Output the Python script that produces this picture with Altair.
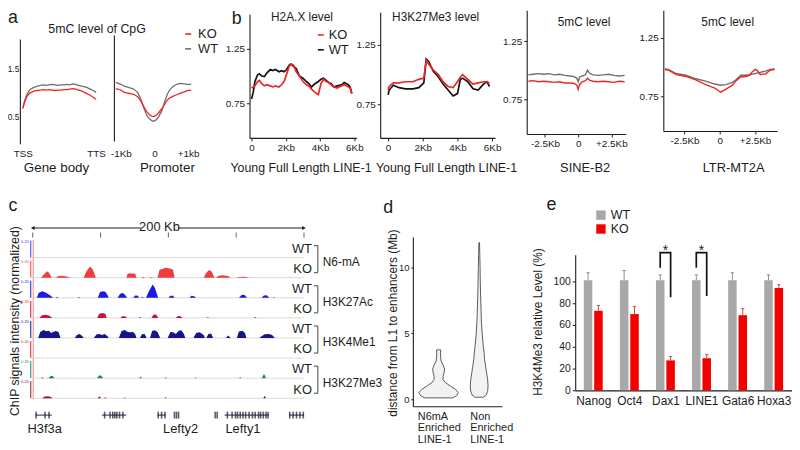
import altair as alt
import pandas as pd

# ================= data =================
# a: 5mC level of CpG
GB_X = [0, 2, 4, 6, 8, 10, 13, 16, 20, 24, 28, 32, 36, 40, 44, 48, 52, 56, 60, 64, 68, 72, 76, 80, 84, 88, 92, 96, 100]
GB_WT = [0.68, 0.80, 0.90, 0.97, 1.02, 1.06, 1.09, 1.11, 1.13, 1.15, 1.16, 1.15, 1.16, 1.17, 1.16, 1.15,
         1.16, 1.16, 1.17, 1.16, 1.18, 1.17, 1.15, 1.13, 1.12, 1.10, 1.07, 1.04, 1.00]
GB_KO = [0.66, 0.77, 0.86, 0.92, 0.96, 0.99, 1.01, 1.03, 1.04, 1.05, 1.06, 1.05, 1.06, 1.05, 1.04, 1.05,
         1.05, 1.06, 1.06, 1.07, 1.08, 1.07, 1.05, 1.03, 1.00, 0.97, 0.94, 0.90, 0.85]
PR_X = [-1.15, -1.0, -0.9, -0.75, -0.62, -0.5, -0.41, -0.32, -0.24, -0.16, -0.09, -0.03,
        0.03, 0.1, 0.21, 0.3, 0.38, 0.47, 0.56, 0.66, 0.76, 0.88, 1.0, 1.09]
PR_WT = [1.21, 1.17, 1.13, 1.10, 1.07, 1.00, 0.86, 0.68, 0.53, 0.45, 0.41, 0.39,
         0.41, 0.46, 0.60, 0.80, 0.96, 1.07, 1.13, 1.17, 1.19, 1.18, 1.17, 1.17]
PR_KO = [1.08, 1.05, 1.00, 0.98, 0.96, 0.91, 0.82, 0.70, 0.60, 0.54, 0.50, 0.49,
         0.51, 0.55, 0.65, 0.75, 0.84, 0.89, 0.92, 0.95, 0.98, 1.01, 1.04, 1.04]

# b: H2A.X / H3K27Me3 over young full-length LINE-1 (kb)
HX_X = [0.0, 0.1, 0.2, 0.35, 0.46, 0.6, 0.75, 0.9, 1.1, 1.25, 1.4, 1.6, 1.75, 1.9, 2.05, 2.2, 2.3, 2.45, 2.6, 2.8,
        3.0, 3.2, 3.35, 3.5, 3.7, 3.9, 4.05, 4.2, 4.35, 4.5, 4.65, 4.8, 5.0, 5.25, 5.4, 5.55, 5.65, 5.75, 5.85]
HX_WT = [0.79, 0.85, 0.95, 1.01, 1.02, 1.0, 0.995, 1.03, 1.06, 1.05, 1.06, 1.04, 1.05, 1.04, 1.06, 1.10, 1.11, 1.09, 1.07, 1.0,
         0.98, 0.95, 0.93, 0.90, 0.93, 0.95, 0.97, 0.98, 0.96, 0.94, 0.93, 0.90, 0.91, 0.92, 0.94, 0.93, 0.92, 0.90, 0.84]
HX_KO = [0.89, 0.90, 0.91, 0.95, 0.96, 0.93, 0.91, 0.92, 0.91, 0.90, 0.91, 0.90, 0.92, 0.95, 1.02, 1.09, 1.11, 1.10, 1.04, 1.0,
         0.95, 0.92, 0.91, 0.88, 0.85, 0.83, 0.93, 0.97, 0.95, 0.94, 0.92, 0.90, 0.89, 0.91, 0.92, 0.91, 0.90, 0.89, 0.84]
K27_X = [0.0, 0.06, 0.3, 0.63, 1.0, 1.43, 1.77, 2.06, 2.2, 2.34, 2.6, 2.9, 3.17, 3.46, 3.75, 4.0, 4.17, 4.3, 4.6, 4.9,
         5.2, 5.5, 5.7, 5.85]
K27_KO = [0.87, 0.90, 0.93, 0.93, 0.94, 0.94, 0.96, 0.97, 1.12, 1.09, 1.04, 1.0, 0.94, 0.90, 0.89, 0.94, 0.98, 1.0, 0.96, 0.92,
          0.93, 0.94, 0.94, 0.93]
K27_WT = [0.83, 0.87, 0.91, 0.89, 0.88, 0.88, 0.89, 0.93, 1.13, 1.11, 1.03, 0.98, 0.92, 0.87, 0.82, 0.84, 0.96, 0.97, 0.94, 0.88,
          0.87, 0.92, 0.94, 0.90]
# b: 5mC level over SINE-B2 / LTR-MT2A (kb from centre)
SB_X = [-3.75, -3.4, -3.0, -2.6, -2.2, -1.8, -1.4, -1.0, -0.6, -0.3, -0.1, 0.0, 0.1, 0.3, 0.55, 0.7, 0.85, 1.1, 1.5, 1.9,
        2.3, 2.7, 3.1, 3.5]
SB_WT = [0.96, 0.965, 0.97, 0.965, 0.97, 0.96, 0.965, 0.955, 0.95, 0.945, 0.93, 0.90, 0.94, 0.95, 0.96, 1.0, 0.975, 0.96,
         0.955, 0.96, 0.965, 0.955, 0.95, 0.955]
SB_KO = [0.905, 0.91, 0.90, 0.905, 0.90, 0.895, 0.90, 0.89, 0.89, 0.885, 0.87, 0.835, 0.875, 0.90, 0.91, 0.93, 0.915, 0.905,
         0.90, 0.905, 0.90, 0.895, 0.905, 0.90]
LT_X = [-3.9, -3.66, -3.1, -2.4, -1.7, -1.0, -0.35, 0.07, 0.42, 0.7, 0.9, 1.13, 1.41, 1.48, 1.83, 2.11, 2.32, 2.54, 2.68,
        2.89, 3.03, 3.24, 3.6, 3.9]
LT_WT = [0.985, 0.98, 0.945, 0.93, 0.90, 0.88, 0.855, 0.845, 0.85, 0.86, 0.87, 0.89, 0.92, 0.93, 0.93, 0.935, 0.94, 0.945,
         0.95, 0.955, 0.96, 0.965, 0.98, 0.985]
LT_KO = [0.98, 0.975, 0.935, 0.92, 0.89, 0.85, 0.82, 0.785, 0.81, 0.83, 0.845, 0.88, 0.91, 0.915, 0.92, 0.93, 0.96, 0.98,
         0.97, 0.935, 0.94, 0.94, 0.975, 0.98]

# c: ChIP tracks, (position kb, normalized signal) read from the browser view
N6_WT = []
N6_KO = [(6, 0), (8, 0.15), (10.5, 0.32), (12, 0.25), (14, 0), (17, 0), (19, 0.08), (22, 0.1), (25, 0.06), (28, 0),
         (37.5, 0), (39.5, 0.3), (41, 0.45), (42, 0.55), (43.5, 0.48), (45, 0.3), (46.5, 0),
         (69, 0), (70, 0.2), (72, 0.22), (74, 0.2), (75.5, 0.21), (76.5, 0), (80, 0), (81, 0.05), (83, 0),
         (86, 0), (87, 0.04), (89, 0), (92, 0), (93.5, 0.4), (96, 0.45), (98, 0.5), (100, 0.47), (102, 0.45),
         (103.5, 0.38), (104.5, 0), (126, 0), (128, 0.25), (130, 0.38), (132, 0.3), (134, 0),
         (135, 0), (137, 0.1), (140, 0.12), (144, 0.08), (146, 0), (150, 0), (152, 0.04), (156, 0.05), (160, 0)]
AC_WT = [(3, 0), (4.5, 0.25), (7, 0.32), (9, 0.28), (11, 0.2), (13, 0.12), (15, 0), (17, 0), (18, 0.05), (19, 0),
         (33, 0), (34, 0.04), (35, 0), (48, 0), (49.5, 0.28), (51.5, 0.33), (53.5, 0.3), (55, 0.15), (56, 0),
         (62.5, 0), (64.5, 0.2), (66.5, 0.24), (68.5, 0.12), (69.5, 0), (74, 0), (75.5, 0.12), (77.5, 0.1), (78.5, 0),
         (80, 0), (81, 0.05), (82, 0), (83.5, 0), (85.5, 0.3), (87.5, 0.55), (88.5, 0.66), (90, 0.5), (91.5, 0.2),
         (92.5, 0), (100, 0), (101.5, 0.1), (103.5, 0.1), (104.5, 0), (115.5, 0), (117, 0.1), (119, 0.08), (120.5, 0),
         (152, 0), (154, 0.14), (156, 0.15), (158, 0), (168.5, 0), (170.5, 0.12), (172.5, 0.13), (174.5, 0),
         (177, 0), (178, 0.03), (179, 0)]
AC_KO = [(5, 0), (6.5, 0.12), (9, 0.15), (12, 0.12), (14.5, 0), (47.5, 0), (49, 0.2), (51.5, 0.24), (53.5, 0.2),
         (54.5, 0), (64.5, 0), (66, 0.08), (68, 0.08), (69.5, 0), (78, 0), (79, 0.04), (80, 0), (87.5, 0), (89, 0.16),
         (91, 0.17), (92.5, 0), (105.5, 0), (107, 0.1), (109, 0.08), (110.5, 0), (128, 0), (129, 0.03), (130, 0),
         (163, 0), (164, 0.04), (165, 0)]
K4_WT = [(4, 0), (5.5, 0.3), (8, 0.4), (10, 0.33), (12, 0.36), (13.5, 0.25), (15, 0.3), (17, 0.35), (19, 0.3), (20.5, 0),
         (31, 0), (32.5, 0.15), (34.5, 0.2), (36.5, 0.1), (37.5, 0), (45, 0), (47, 0.17), (49, 0.2), (51, 0.15),
         (53, 0.2), (55, 0.1), (56, 0), (63.5, 0), (65.5, 0.35), (68, 0.4), (70, 0.3), (72, 0.28), (74, 0.3),
         (75.5, 0.2), (76.5, 0), (79, 0), (80.5, 0.18), (82.5, 0.2), (84, 0), (86.5, 0), (88, 0.35), (90, 0.38),
         (92, 0.3), (94, 0), (99.5, 0), (101.5, 0.3), (103.5, 0.28), (105.5, 0.2), (107.5, 0.35), (109.5, 0.38),
         (111.5, 0.2), (112.5, 0), (118.5, 0), (120.5, 0.25), (123, 0.28), (126, 0.15), (127, 0), (128, 0),
         (129.5, 0.2), (131.5, 0.22), (133, 0), (142.5, 0), (144, 0.12), (146, 0), (150.5, 0), (152, 0.32),
         (154.5, 0.36), (156.5, 0.25), (157.5, 0), (167, 0), (169, 0.1), (171, 0.18), (174, 0.2), (176.5, 0.15),
         (178.5, 0)]
K4_KO = []
K27_WT_T = [(6, 0), (7, 0.05), (8.5, 0), (11.5, 0), (13, 0.1), (14.5, 0.12), (16, 0), (47.5, 0), (49, 0.15),
            (50.5, 0.12), (52, 0), (78.5, 0), (79.5, 0.08), (80.5, 0), (97, 0), (98, 0.04), (99, 0), (119, 0),
            (120, 0.03), (121, 0), (152, 0), (153, 0.04), (154, 0), (169, 0), (170.5, 0.22), (172, 0)]
K27_KO_T = [(7, 0), (8.5, 0.08), (11, 0.1), (13.5, 0.06), (14.5, 0), (48, 0), (49, 0.1), (50.5, 0), (52.5, 0),
            (53.5, 0.05), (54.5, 0), (67, 0), (67.8, 0.04), (68.6, 0), (97, 0), (98, 0.05), (99, 0), (170, 0),
            (171, 0.12), (172, 0)]
TRACK_NAMES = ["N6-mA WT", "N6-mA KO", "H3K27Ac WT", "H3K27Ac KO", "H3K4Me1 WT", "H3K4Me1 KO", "H3K27Me3 WT", "H3K27Me3 KO"]
TRACK_DATA = [N6_WT, N6_KO, AC_WT, AC_KO, K4_WT, K4_KO, K27_WT_T, K27_KO_T]
TRACK_FILL = ["#3a3aff", "#f03c3c", "#1a1ae6", "#c8143c", "#14148c", "#d42020", "#1f7f6f", "#8c1434"]
TRACK_GROUPS = ["N6-mA", "H3K27Ac", "H3K4Me1", "H3K27Me3"]
GENE_START = [2, 51, 92, 141.5, 189]
GENE_END = [14, 69, 98, 174, 200]
EXONS = [2.5, 9, 12, 53, 57, 59, 60.5, 62, 64, 66.5, 92.5, 95, 97.5, 104.5, 106, 107.5, 134.5, 136,
         143.5, 147, 149.5, 151, 153, 155, 157, 159.5, 162, 164, 166.5, 168, 170, 172, 173.5,
         189.5, 192, 194.5, 197, 199.5]
GENE_LABELS = ["H3f3a", "Lefty2", "Lefty1"]
GENE_LABEL_KB = [8.8, 109, 155]
RULER_TICKS = [0, 50, 100, 150, 200]

# d: violin outlines (distance Mb, half width)
V1_D = [0.1, 0.25, 0.5, 0.75, 1.0, 1.25, 1.5, 1.75, 2.0, 2.3, 2.6, 2.9, 3.2, 3.5, 3.75]
V1_W = [14, 18, 20, 17, 12, 7, 4.5, 4.5, 5.5, 6, 4.5, 2.5, 2, 2, 2]
V2_D = [0.15, 0.3, 0.6, 1.0, 1.5, 2.0, 2.5, 3.0, 3.5, 4.0, 5.0, 6.0, 7.0, 8.0, 9.0, 10.0, 11.0, 11.9]
V2_W = [4, 7, 8.5, 9, 8.5, 7.5, 6.5, 5.5, 5, 4.2, 3, 2.2, 1.8, 1.4, 1.1, 0.9, 0.6, 0.3]

# e: H3K4Me3 relative level (%)
E_GENES = ["Nanog", "Oct4", "Dax1", "LINE1", "Gata6", "Hoxa3"]
E_WT = [101, 101, 101, 101, 101, 101]
E_WT_ERR = [108, 110, 106, 106, 108, 106]
E_KO = [73, 70, 27.5, 29.5, 69, 94]
E_KO_ERR = [78, 77, 31, 33, 75, 97]
E_SIG = ["Dax1", "LINE1"]
E_SIG_TOP = [126.5, 126.5]
E_SIG_WT_LOW = [112.5, 112.5]
E_SIG_KO_LOW = [85.5, 86.5]

# ================= layout helpers =================
W, H = 792, 441
FONT = "Liberation Sans"
INK = "#1c1c1c"
RED = "#f02424"
GRAYL = "#6e6e6e"
ONE = alt.Data(values=[{"k": 0}])


def px(x):
    return x - 8


def py(y):
    return y - 8


def xs(dom, x0, x1):
    return alt.Scale(domain=list(dom), range=[px(x0), px(x1)], nice=False, zero=False)


def ys(dom, ybot, ytop):
    return alt.Scale(domain=list(dom), range=[py(ybot), py(ytop)], nice=False, zero=False)


def lab_expr(values, labels):
    e = "''"
    for v, l in reversed(list(zip(values, labels))):
        e = f"datum.value == {v} ? '{l}' : {e}"
    return e


def axis(orient, pos, values=None, labels=None, domain=True, ticks=True, size=10, pad=2, tick=3):
    off = (py(pos) - H) if orient == "bottom" else -px(pos)
    kw = dict(orient=orient, offset=off, title=None, grid=False, domain=domain, tickSize=tick,
              labelFont=FONT, labelFontSize=size, labelColor=INK, domainColor=INK, tickColor=INK,
              labelPadding=pad, labelFlush=False, labelOverlap=False, domainWidth=1.1)
    if values is None:
        kw.update(labels=False, ticks=False)
    else:
        kw.update(values=values, ticks=ticks, labelExpr=lab_expr(values, labels))
    return alt.Axis(**kw)


def txt(s, x, y, size=12, align="center", baseline="middle", angle=None, color=INK, weight="normal"):
    kw = dict(text=s, font=FONT, fontSize=size, align=align, baseline=baseline, color=color, fontWeight=weight)
    if angle is not None:
        kw["angle"] = angle
    return alt.Chart(ONE).mark_text(**kw).encode(x=alt.value(px(x)), y=alt.value(py(y)))


def hrule(x0, x1, y, color=INK, w=1.2):
    return alt.Chart(ONE).mark_rule(color=color, strokeWidth=w).encode(
        x=alt.value(px(x0)), x2=alt.value(px(x1)), y=alt.value(py(y)))


def vrule(x, y0, y1, color=INK, w=1.2):
    return alt.Chart(ONE).mark_rule(color=color, strokeWidth=w).encode(
        x=alt.value(px(x)), y=alt.value(py(y0)), y2=alt.value(py(y1)))


def two_series(x, wt, ko, wt_col, ko_col):
    return pd.DataFrame({"x": list(x) * 2, "y": list(wt) + list(ko),
                         "s": ["WT"] * len(wt) + ["KO"] * len(ko),
                         "c": [wt_col] * len(wt) + [ko_col] * len(ko)})


def line_panel(df, xscale, yscale, xax, yax, width=1.3):
    return alt.Chart(df).mark_line(strokeWidth=width).encode(
        x=alt.X("x:Q", scale=xscale, axis=xax),
        y=alt.Y("y:Q", scale=yscale, axis=yax),
        color=alt.Color("c:N", scale=None),
        detail="s:N",
    )


layers = []

# ================= panel a =================
layers.append(txt("a", 13, 16, size=18))
layers.append(line_panel(two_series(GB_X, GB_WT, GB_KO, GRAYL, RED),
                         xs([0, 100], 23, 97), ys([-0.083, 2.125], 143, 37),
                         axis("bottom", 143, [0, 100], ["TSS", "TTS"], domain=False, ticks=False, pad=5),
                         axis("left", 20, [0.5, 1.5], ["0.5", "1.5"], size=8.5, tick=0, pad=1)))
layers.append(line_panel(two_series(PR_X, PR_WT, PR_KO, GRAYL, RED),
                         xs([-1.206, 1.147], 115, 195), ys([-0.021, 2.208], 140, 33),
                         axis("bottom", 143, [-1, 0, 1], ["-1Kb", "0", "+1kb"], domain=False, ticks=False, pad=5),
                         axis("left", 115)))
layers += [txt("5mC level of CpG", 98, 27, size=12.5),
           hrule(187, 193, 32, RED, 1.6), txt("KO", 200, 32, size=13, align="left"),
           hrule(187, 193, 47, GRAYL, 1.6), txt("WT", 200, 47, size=13, align="left"),
           txt("Gene body", 57, 167, size=13.5), txt("Promoter", 169, 167, size=13.5)]

# ================= panel b =================
layers.append(txt("b", 239, 17, size=18))
layers.append(line_panel(two_series(HX_X, HX_WT, HX_KO, "#111111", RED),
                         xs([-0.115, 6.12], 252, 360), ys([0.432, 1.568], 137, 12),
                         axis("bottom", 137, [0, 2, 4, 6], ["0", "2Kb", "4Kb", "6Kb"]),
                         axis("left", 252, [0.75, 1.25], ["0.75", "1.25"]), width=1.7))
layers.append(line_panel(two_series(K27_X, K27_WT, K27_KO, "#111111", RED),
                         xs([-0.457, 6.17], 384, 500), ys([0.467, 1.525], 137, 10),
                         axis("bottom", 137, [0, 2, 4, 6], ["0", "2Kb", "4Kb", "6Kb"]),
                         axis("left", 384, [0.75, 1.25], ["0.75", "1.25"]), width=1.7))
layers.append(line_panel(two_series(SB_X, SB_WT, SB_KO, GRAYL, RED),
                         xs([-3.88, 3.58], 532, 632), ys([0.45, 1.517], 133, 8),
                         axis("bottom", 133, [-2.5, 0, 2.5], ["-2.5Kb", "0", "+2.5Kb"]),
                         axis("left", 532, [0.75, 1.25], ["0.75", "1.25"]), width=1.4))
layers.append(line_panel(two_series(LT_X, LT_WT, LT_KO, GRAYL, RED),
                         xs([-4.01, 4.08], 670, 785), ys([0.453, 1.487], 130, 8),
                         axis("bottom", 130, [-2.5, 0, 2.5], ["-2.5Kb", "0", "+2.5Kb"]),
                         axis("left", 670, [0.75, 1.25], ["0.75", "1.25"]), width=1.4))
layers += [txt("H2A.X level", 305, 15, size=12), txt("H3K27Me3 level", 440, 15, size=12),
           txt("5mC level", 590, 20, size=12), txt("5mC level", 735, 20, size=12),
           hrule(321, 327, 33, RED, 1.6), txt("KO", 332, 33, size=13, align="left"),
           hrule(321, 327, 48, "#111111", 1.6), txt("WT", 332, 48, size=13, align="left"),
           txt("Young Full Length LINE-1", 304, 167, size=12.5), txt("Young Full Length LINE-1", 451, 167, size=12.5),
           txt("SINE-B2", 591, 167, size=13), txt("LTR-MT2A", 741, 167, size=13)]

# ================= panel c =================
KB = xs([0, 200], 33, 307)
TRY = ys([0, 8], 400, 400 - 8 * 20.3)
rows = []
for ti, (name, pts) in enumerate(zip(TRACK_NAMES, TRACK_DATA)):
    for kb, h in pts:
        rows.append({"t": name, "kb": kb, "h": h, "row": 7 - ti, "c": TRACK_FILL[ti]})
track_df = pd.DataFrame(rows)
row_df = pd.DataFrame({"t": TRACK_NAMES, "row": [7 - i for i in range(8)], "c": TRACK_FILL,
                       "lab": [n.split(" ")[1] for n in TRACK_NAMES]})
grp_df = pd.DataFrame({"g": TRACK_GROUPS, "kro": [6, 4, 2, 0]})

layers.append(txt("c", 13, 206, size=18))
layers.append(txt("ChIP signals intensity (normalized)", 15, 322, size=12.5, angle=270))
# separators
layers.append(alt.Chart(row_df).mark_rule(color="#cfcfcf", strokeWidth=0.8).encode(
    x=alt.X(datum=0, type="quantitative", scale=KB, axis=None), x2=alt.X2(datum=200),
    y=alt.Y("row:Q", scale=TRY, axis=None)))
# signal areas
layers.append(alt.Chart(track_df).transform_calculate(top="datum.row + datum.h").mark_area(
    interpolate="linear", opacity=1).encode(
    x=alt.X("kb:Q", scale=KB, axis=None),
    y=alt.Y("top:Q", scale=TRY, axis=None), y2="row:Q",
    color=alt.Color("c:N", scale=None), detail="t:N"))
# mini track axes
layers.append(alt.Chart(row_df).transform_calculate(rt="datum.row + 0.85").mark_rule(strokeWidth=1).encode(
    x=alt.value(px(31)), y=alt.Y("row:Q", scale=TRY, axis=None), y2="rt:Q",
    color=alt.Color("c:N", scale=None)))
layers.append(alt.Chart(row_df).transform_calculate(rt="datum.row + 0.8").mark_text(
    text="0.20", fontSize=4, align="right", font=FONT).encode(
    x=alt.value(px(29)), y=alt.Y("rt:Q", scale=TRY, axis=None), color=alt.Color("c:N", scale=None)))
layers.append(vrule(33.5, 240, 401, "#f4a4a4", 1.3))
# WT/KO labels, brackets, group names
layers.append(alt.Chart(row_df).transform_calculate(ly="datum.row + 0.43").mark_text(
    fontSize=13, align="right", font=FONT, color=INK).encode(
    x=alt.value(px(315)), y=alt.Y("ly:Q", scale=TRY, axis=None), text="lab:N"))
layers.append(alt.Chart(grp_df).transform_calculate(b0="datum.kro + 0.25", b1="datum.kro + 1.6").mark_rule(
    color="#555555", strokeWidth=1.1).encode(
    x=alt.value(px(321)), y=alt.Y("b0:Q", scale=TRY, axis=None), y2="b1:Q"))
for end in ["0.25", "1.6"]:
    layers.append(alt.Chart(grp_df).transform_calculate(b="datum.kro + " + end).mark_rule(
        color="#555555", strokeWidth=1.1).encode(
        x=alt.value(px(317)), x2=alt.value(px(321)), y=alt.Y("b:Q", scale=TRY, axis=None)))
layers.append(alt.Chart(grp_df).transform_calculate(gy="datum.kro + 0.78").mark_text(
    fontSize=12, align="left", font=FONT, color=INK).encode(
    x=alt.value(px(326)), y=alt.Y("gy:Q", scale=TRY, axis=None), text="g:N"))
# ruler
ruler_seg = pd.DataFrame({"a": [0, 107], "b": [80, 200]})
layers.append(alt.Chart(ruler_seg).mark_rule(color=INK, strokeWidth=1).encode(
    x=alt.X("a:Q", scale=KB, axis=None), x2="b:Q", y=alt.value(py(228))))
layers.append(alt.Chart(pd.DataFrame({"kb": RULER_TICKS})).mark_tick(
    color=INK, thickness=1, size=5, orient="vertical").encode(
    x=alt.X("kb:Q", scale=KB, axis=None), y=alt.value(py(235))))
layers.append(alt.Chart(pd.DataFrame({"kb": [0]})).mark_point(
    shape="triangle-left", filled=True, size=18, color=INK, opacity=1).encode(
    x=alt.X("kb:Q", scale=KB, axis=None), y=alt.value(py(228))))
layers.append(alt.Chart(pd.DataFrame({"kb": [200]})).mark_point(
    shape="triangle-right", filled=True, size=18, color=INK, opacity=1).encode(
    x=alt.X("kb:Q", scale=KB, axis=None), y=alt.value(py(228))))
layers.append(txt("200 Kb", 161, 227, size=13))
# genes
layers.append(alt.Chart(pd.DataFrame({"s": GENE_START, "e": GENE_END})).mark_rule(
    color="#20204a", strokeWidth=1).encode(
    x=alt.X("s:Q", scale=KB, axis=None), x2="e:Q", y=alt.value(py(417))))
layers.append(alt.Chart(pd.DataFrame({"kb": EXONS})).mark_tick(
    color="#15152e", thickness=1.6, size=7, orient="vertical").encode(
    x=alt.X("kb:Q", scale=KB, axis=None), y=alt.value(py(417))))
layers.append(alt.Chart(pd.DataFrame({"g": GENE_LABELS, "kb": GENE_LABEL_KB})).mark_text(
    fontSize=13, font=FONT, color=INK).encode(
    x=alt.X("kb:Q", scale=KB, axis=None), y=alt.value(py(431)), text="g:N"))

# ================= panel d =================
vio = pd.DataFrame({"g": [0] * len(V1_D) + [1] * len(V2_D), "d": V1_D + V2_D, "w": V1_W + V2_W})
DX = xs([0, 90], 417, 507)
DY = ys([-0.53, 12.33], 408, 237)
layers.append(txt("d", 392, 208, size=18))
layers.append(alt.Chart(vio).transform_calculate(
    cx="datum.g == 0 ? 26 : 67").transform_calculate(
    lo="datum.cx - datum.w", hi="datum.cx + datum.w").mark_area(
    orient="horizontal", fill="#f2f2f2", stroke="#4a4a4a", strokeWidth=0.9).encode(
    y=alt.Y("d:Q", scale=DY, axis=axis("left", 417, [0, 5, 10], ["0", "5", "10"], size=9.5, tick=2)),
    x=alt.X("lo:Q", scale=DX, axis=axis("bottom", 408), stack=None), x2="hi:Q", detail="g:N"))
layers.append(txt("distance from L1 to enhancers (Mb)", 397, 324, size=12, angle=270))
for i, line in enumerate(["N6mA", "Enriched", "LINE-1"]):
    layers.append(txt(line, 422, 419 + 11.5 * i, size=11, align="left"))
for i, line in enumerate(["Non", "Enriched", "LINE-1"]):
    layers.append(txt(line, 475, 419 + 11.5 * i, size=11, align="left"))

# ================= panel e =================
erows = []
for i, g in enumerate(E_GENES):
    erows.append({"g": g, "i": i, "s": "WT", "v": E_WT[i], "e": E_WT_ERR[i], "c": "#a8a8a8", "ec": "#8e8e8e"})
    erows.append({"g": g, "i": i, "s": "KO", "v": E_KO[i], "e": E_KO_ERR[i], "c": "#f20000", "ec": "#d04848"})
edf = pd.DataFrame(erows)
EX = xs([-0.5, 5.5], 581, 799.7)
EY = ys([0, 124.5], 392, 255)


def e_base(df):
    return (alt.Chart(df)
            .transform_calculate(xc="datum.i + (datum.s == 'WT' ? -0.144 : 0.144)")
            .transform_calculate(x0="datum.xc - 0.118", x1="datum.xc + 0.118",
                                 cl="datum.xc - 0.045", cr="datum.xc + 0.045", z="0"))


layers.append(txt("e", 557, 205, size=18))
layers.append(e_base(edf).mark_rect().encode(
    x=alt.X("x0:Q", scale=EX, axis=axis("bottom", 392, list(range(6)), E_GENES, ticks=False, size=12, pad=5)),
    x2="x1:Q",
    y=alt.Y("v:Q", scale=EY, axis=axis("left", 581, [0, 20, 40, 60, 80, 100],
                                       ["0", "20", "40", "60", "80", "100"], size=10.5, tick=3)),
    y2="z:Q", color=alt.Color("c:N", scale=None)))
layers.append(e_base(edf).mark_rule(strokeWidth=1).encode(
    x=alt.X("xc:Q", scale=EX, axis=None), y=alt.Y("v:Q", scale=EY, axis=None), y2="e:Q",
    color=alt.Color("ec:N", scale=None)))
layers.append(e_base(edf).mark_rule(strokeWidth=1).encode(
    x=alt.X("cl:Q", scale=EX, axis=None), x2="cr:Q", y=alt.Y("e:Q", scale=EY, axis=None),
    color=alt.Color("ec:N", scale=None)))
brows = []
for k, g in enumerate(E_SIG):
    i = E_GENES.index(g)
    for o, (s, v) in enumerate([("WT", E_SIG_WT_LOW[k]), ("WT", E_SIG_TOP[k]), ("KO", E_SIG_TOP[k]), ("KO", E_SIG_KO_LOW[k])]):
        brows.append({"g": g, "i": i, "s": s, "v": v, "o": o})
bdf = pd.DataFrame(brows)
layers.append(e_base(bdf).mark_line(color="#111111", strokeWidth=1.7).encode(
    x=alt.X("xc:Q", scale=EX, axis=None), y=alt.Y("v:Q", scale=EY, axis=None),
    detail="g:N", order="o:Q"))
layers.append(alt.Chart(pd.DataFrame({"i": [E_GENES.index(g) for g in E_SIG]})).mark_text(
    text="*", fontSize=14, font=FONT, color=INK).encode(
    x=alt.X("i:Q", scale=EX, axis=None), y=alt.value(py(251))))
layers += [
    alt.Chart(ONE).mark_square(size=90, color="#a8a8a8", opacity=1).encode(x=alt.value(px(607)), y=alt.value(py(215))),
    alt.Chart(ONE).mark_square(size=90, color="#f20000", opacity=1).encode(x=alt.value(px(607)), y=alt.value(py(229))),
    txt("WT", 617, 215, size=12.5, align="left"), txt("KO", 617, 229.5, size=12.5, align="left"),
    txt("H3K4Me3 relative Level (%)", 543, 323, size=12, angle=270),
]

chart = (alt.layer(*layers)
         .resolve_scale(x="independent", y="independent")
         .properties(width=W, height=H, padding=0, autosize=alt.AutoSizeParams(type="none"),
                     background="white")
         .configure_view(stroke=None))

chart.save("out.html", embed_options={"renderer": "svg", "actions": False})
